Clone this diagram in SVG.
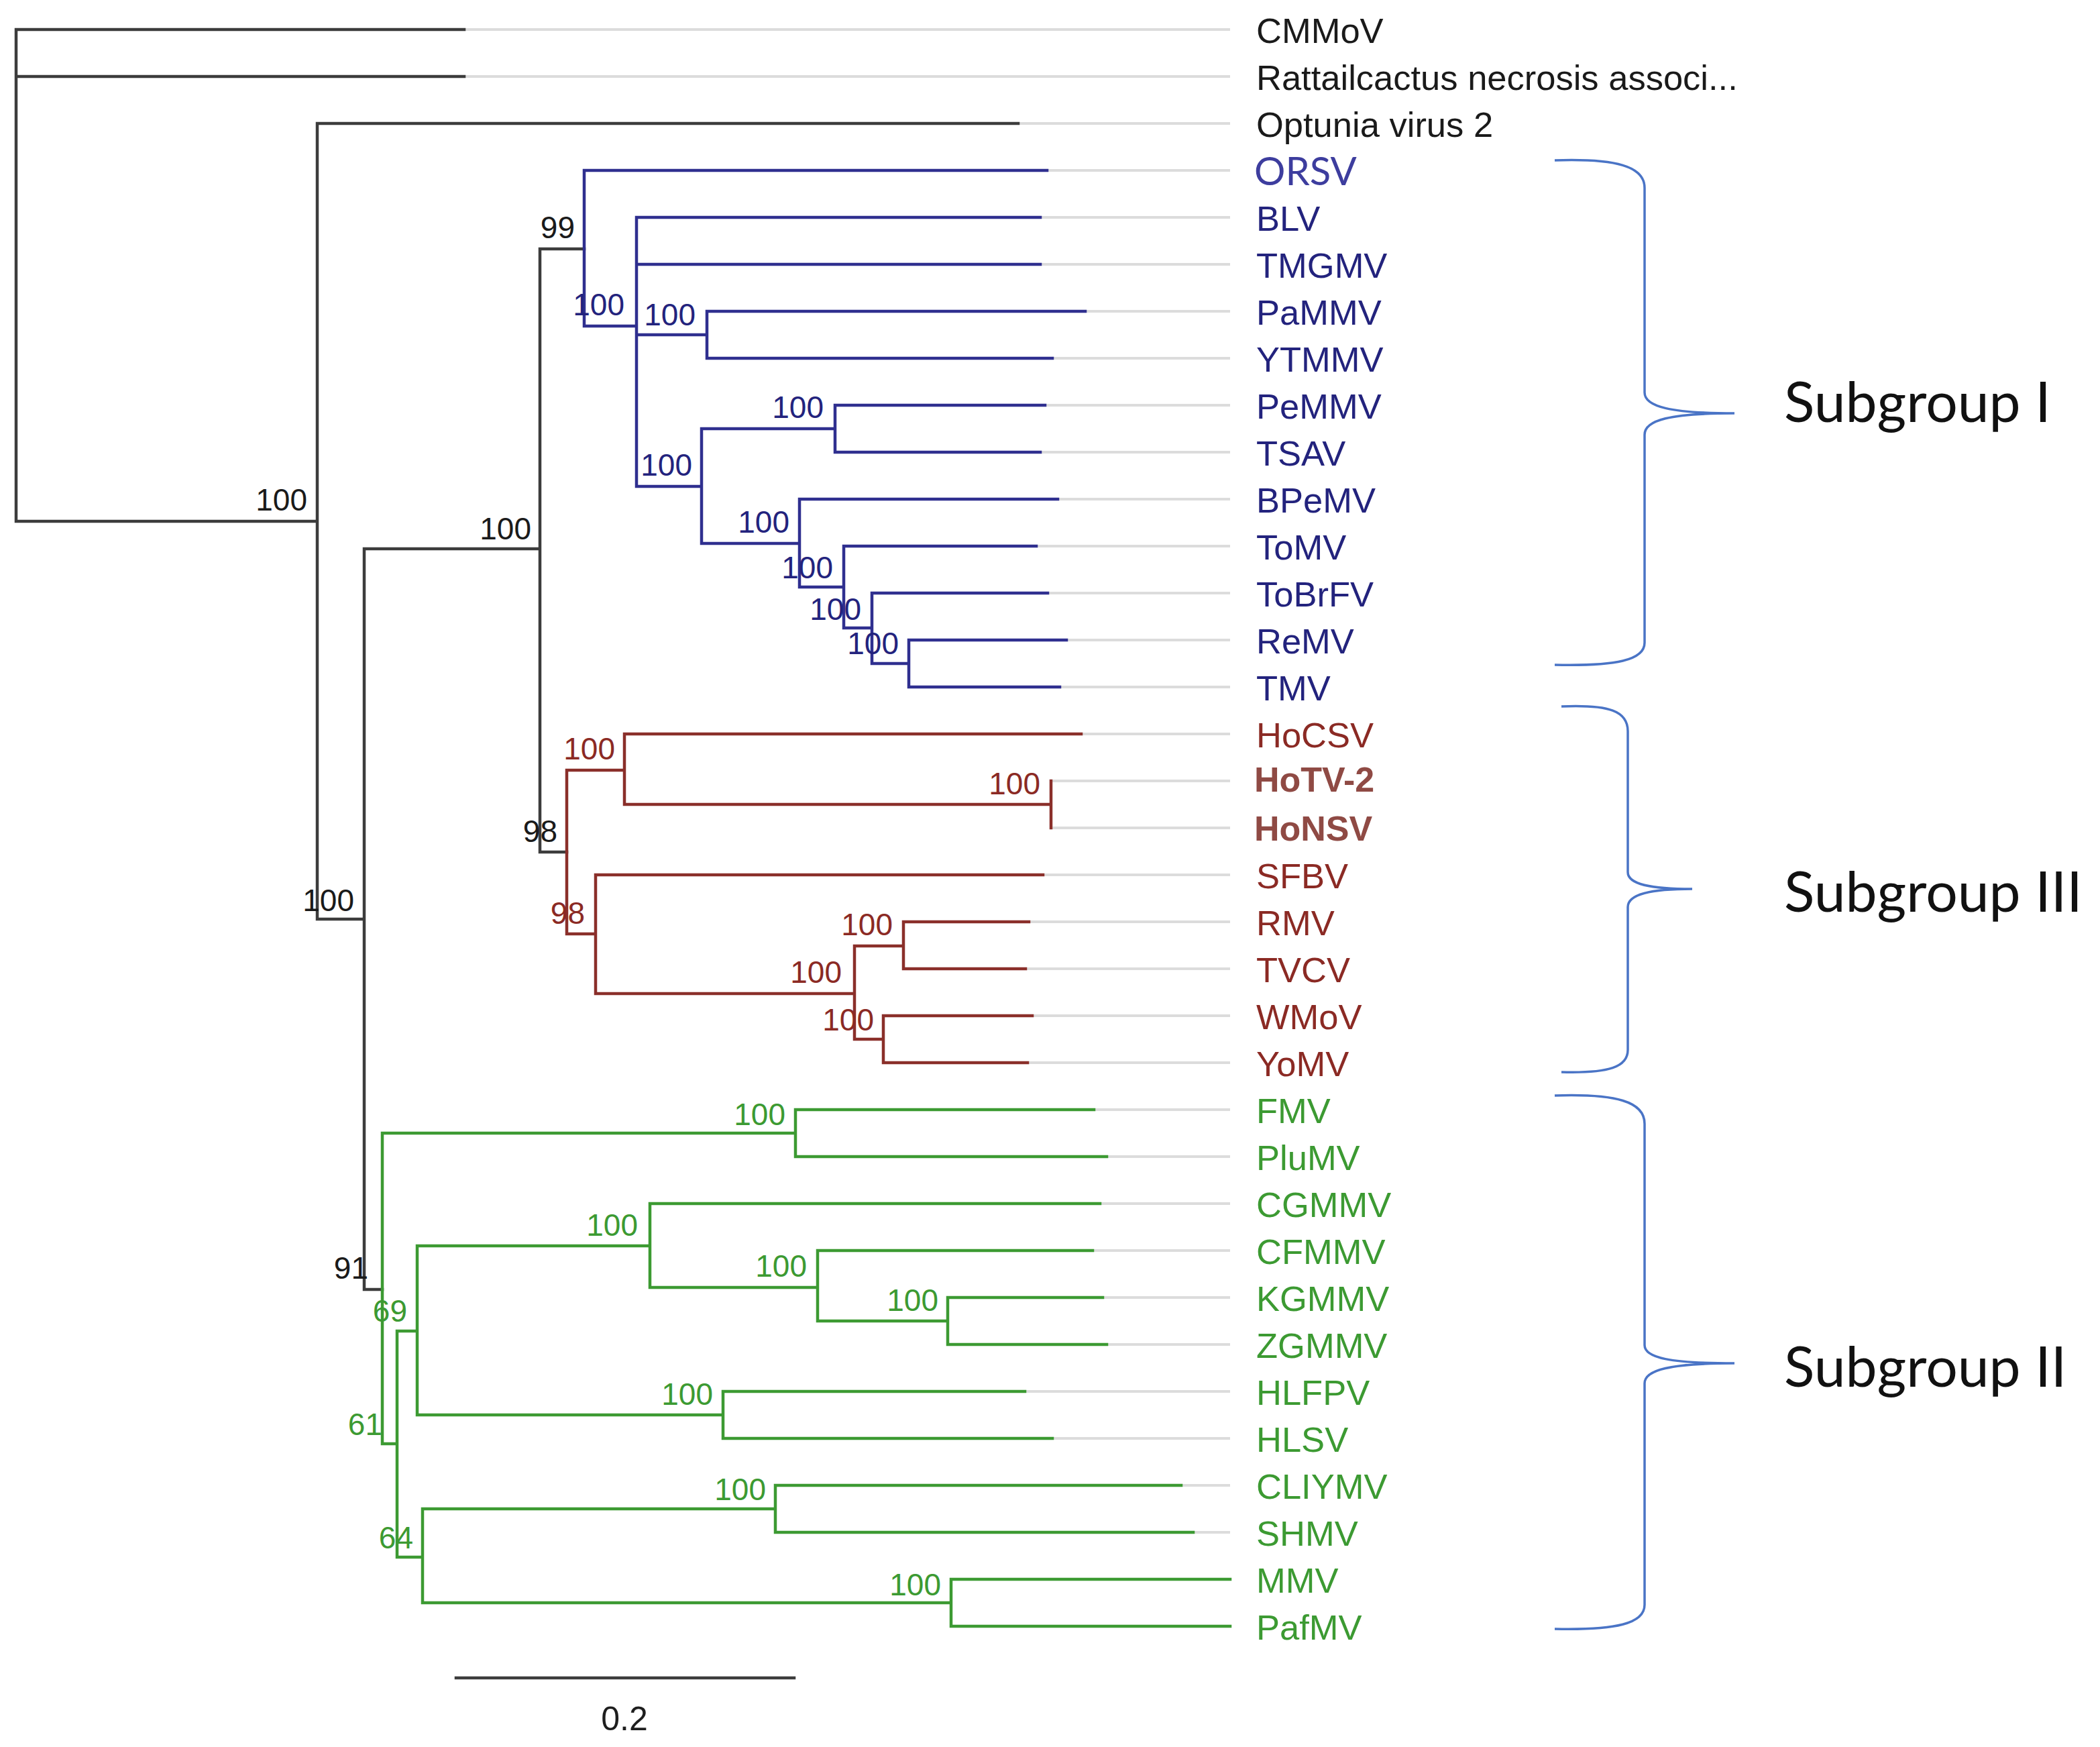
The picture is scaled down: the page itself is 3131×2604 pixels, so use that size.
<svg xmlns="http://www.w3.org/2000/svg" width="3131" height="2604" viewBox="0 0 3131 2604">
<style>
.br{fill:none;stroke-width:4.5;stroke-linecap:square}
.k{stroke:#3c3c3c}.b{stroke:#2f2f8f}.r{stroke:#8a2f2a}.g{stroke:#3c9a32}
.x{fill:none;stroke:#dcdcdc;stroke-width:4}
.brace{fill:none;stroke:#4a74c6;stroke-width:3.5}
.leaf{font-family:"Liberation Sans",Arial,sans-serif;font-size:52.5px}
.bs{font-family:"Liberation Sans",Arial,sans-serif;font-size:46px;text-anchor:end}
.tk{fill:#1a1a1a}.tb{fill:#23237d}.tr{fill:#8b2a24}.tg{fill:#3c9a32}
.sg{font-family:Lato,"Open Sans",sans-serif;font-size:84px;fill:#111}
</style>
<rect width="3131" height="2604" fill="#fff"/>
<g id="connectors">
<path class="x" d="M692 44H1834M692 114H1834M1518 184H1834M1561 254H1834M1551 324H1834M1551 394H1834M1618 464H1834M1569 534H1834M1558 604H1834M1551 674H1834M1577 744H1834M1545 814H1834M1562 884H1834M1590 954H1834M1580 1024H1834M1612 1094H1834M1567 1164H1834M1567 1234H1834M1555 1304H1834M1534 1374H1834M1529 1444H1834M1539 1514H1834M1532 1584H1834M1631 1654H1834M1650 1724H1834M1640 1794H1834M1629 1864H1834M1644 1934H1834M1650 2004H1834M1528 2074H1834M1569 2144H1834M1761 2214H1834M1779 2284H1834"/>
<path class="br k" d="M24 44V777M24 44H692M24 114H692M24 777H473M473 184V1370M473 184H1518M473 1370H543M543 818V1922M543 818H805M805 371V1270M805 371H871M805 1270H845M543 1922H570"/>
<path class="br b" d="M871 254V486M871 254H1561M871 486H949M949 324V725M949 324H1551M949 394H1551M949 499H1054M1054 464V534M1054 464H1618M1054 534H1569M949 725H1046M1046 639V810M1046 639H1245M1245 604V674M1245 604H1558M1245 674H1551M1046 810H1192M1192 744V875M1192 744H1577M1192 875H1258M1258 814V936M1258 814H1545M1258 936H1300M1300 884V989M1300 884H1562M1300 989H1355M1355 954V1024M1355 954H1590M1355 1024H1580"/>
<path class="br r" d="M845 1148V1392M845 1148H931M931 1094V1199M931 1094H1612M931 1199H1567M1567 1164V1234M845 1392H888M888 1304V1481M888 1304H1555M888 1481H1274M1274 1410V1549M1274 1410H1347M1347 1374V1444M1347 1374H1534M1347 1444H1529M1274 1549H1317M1317 1514V1584M1317 1514H1539M1317 1584H1532"/>
<path class="br g" d="M570 1689V2152M570 1689H1186M1186 1654V1724M1186 1654H1631M1186 1724H1650M570 2152H592M592 1984V2321M592 1984H622M622 1857V2109M622 1857H969M969 1794V1919M969 1794H1640M969 1919H1219M1219 1864V1969M1219 1864H1629M1219 1969H1413M1413 1934V2004M1413 1934H1644M1413 2004H1650M622 2109H1078M1078 2074V2144M1078 2074H1528M1078 2144H1569M592 2321H630M630 2249V2389M630 2249H1156M1156 2214V2284M1156 2214H1761M1156 2284H1779M630 2389H1418M1418 2354V2424M1418 2354H1834M1418 2424H1834"/>
</g>
<g id="support-values">
<text class="bs tk" x="458" y="761">100</text>
<text class="bs tk" x="528" y="1358">100</text>
<text class="bs tk" x="792" y="804">100</text>
<text class="bs tk" x="857" y="355">99</text>
<text class="bs tk" x="831" y="1255">98</text>
<text class="bs tk" x="549" y="1906">91</text>
<text class="bs tb" x="931" y="470">100</text>
<text class="bs tb" x="1037" y="485">100</text>
<text class="bs tb" x="1032" y="709">100</text>
<text class="bs tb" x="1228" y="623">100</text>
<text class="bs tb" x="1177" y="794">100</text>
<text class="bs tb" x="1242" y="862">100</text>
<text class="bs tb" x="1284" y="924">100</text>
<text class="bs tb" x="1340" y="975">100</text>
<text class="bs tr" x="917" y="1132">100</text>
<text class="bs tr" x="1551" y="1184">100</text>
<text class="bs tr" x="872" y="1377">98</text>
<text class="bs tr" x="1255" y="1465">100</text>
<text class="bs tr" x="1331" y="1394">100</text>
<text class="bs tr" x="1303" y="1536">100</text>
<text class="bs tg" x="1171" y="1677">100</text>
<text class="bs tg" x="951" y="1842">100</text>
<text class="bs tg" x="1203" y="1903">100</text>
<text class="bs tg" x="1399" y="1954">100</text>
<text class="bs tg" x="1063" y="2094">100</text>
<text class="bs tg" x="1142" y="2236">100</text>
<text class="bs tg" x="1403" y="2378">100</text>
<text class="bs tg" x="607" y="1970">69</text>
<text class="bs tg" x="570" y="2139">61</text>
<text class="bs tg" x="616" y="2308">64</text>
</g>
<g id="leaf-CMMoV"><text class="leaf tk" x="1873" y="64">CMMoV</text></g>
<g id="leaf-Rattailcactus"><text class="leaf tk" x="1873" y="134">Rattailcactus necrosis associ...</text></g>
<g id="leaf-Optunia"><text class="leaf tk" x="1873" y="204">Optunia virus 2</text></g>
<g id="leaf-ORSV"><text x="1870" y="276" style="font-family:Lato,'Open Sans',sans-serif;font-size:58px;fill:#3d3d9e">ORSV</text></g>
<g id="leaf-BLV"><text class="leaf tb" x="1873" y="344">BLV</text></g>
<g id="leaf-TMGMV"><text class="leaf tb" x="1873" y="414">TMGMV</text></g>
<g id="leaf-PaMMV"><text class="leaf tb" x="1873" y="484">PaMMV</text></g>
<g id="leaf-YTMMV"><text class="leaf tb" x="1873" y="554">YTMMV</text></g>
<g id="leaf-PeMMV"><text class="leaf tb" x="1873" y="624">PeMMV</text></g>
<g id="leaf-TSAV"><text class="leaf tb" x="1873" y="694">TSAV</text></g>
<g id="leaf-BPeMV"><text class="leaf tb" x="1873" y="764">BPeMV</text></g>
<g id="leaf-ToMV"><text class="leaf tb" x="1873" y="834">ToMV</text></g>
<g id="leaf-ToBrFV"><text class="leaf tb" x="1873" y="904">ToBrFV</text></g>
<g id="leaf-ReMV"><text class="leaf tb" x="1873" y="974">ReMV</text></g>
<g id="leaf-TMV"><text class="leaf tb" x="1873" y="1044">TMV</text></g>
<g id="leaf-HoCSV"><text class="leaf tr" x="1873" y="1114">HoCSV</text></g>
<g id="leaf-HoTV-2"><text class="leaf" x="1870" y="1180" style="font-weight:bold;font-size:52px;fill:#8f4a44">HoTV-2</text></g>
<g id="leaf-HoNSV"><text class="leaf" x="1870" y="1253" style="font-weight:bold;font-size:52px;fill:#8f4a44">HoNSV</text></g>
<g id="leaf-SFBV"><text class="leaf tr" x="1873" y="1324">SFBV</text></g>
<g id="leaf-RMV"><text class="leaf tr" x="1873" y="1394">RMV</text></g>
<g id="leaf-TVCV"><text class="leaf tr" x="1873" y="1464">TVCV</text></g>
<g id="leaf-WMoV"><text class="leaf tr" x="1873" y="1534">WMoV</text></g>
<g id="leaf-YoMV"><text class="leaf tr" x="1873" y="1604">YoMV</text></g>
<g id="leaf-FMV"><text class="leaf tg" x="1873" y="1674">FMV</text></g>
<g id="leaf-PluMV"><text class="leaf tg" x="1873" y="1744">PluMV</text></g>
<g id="leaf-CGMMV"><text class="leaf tg" x="1873" y="1814">CGMMV</text></g>
<g id="leaf-CFMMV"><text class="leaf tg" x="1873" y="1884">CFMMV</text></g>
<g id="leaf-KGMMV"><text class="leaf tg" x="1873" y="1954">KGMMV</text></g>
<g id="leaf-ZGMMV"><text class="leaf tg" x="1873" y="2024">ZGMMV</text></g>
<g id="leaf-HLFPV"><text class="leaf tg" x="1873" y="2094">HLFPV</text></g>
<g id="leaf-HLSV"><text class="leaf tg" x="1873" y="2164">HLSV</text></g>
<g id="leaf-CLIYMV"><text class="leaf tg" x="1873" y="2234">CLIYMV</text></g>
<g id="leaf-SHMV"><text class="leaf tg" x="1873" y="2304">SHMV</text></g>
<g id="leaf-MMV"><text class="leaf tg" x="1873" y="2374">MMV</text></g>
<g id="leaf-PafMV"><text class="leaf tg" x="1873" y="2444">PafMV</text></g>
<g id="subgroup-I">
<path class="brace" d="M2318 239C2410 236 2452 248 2452 280V585C2452 606 2490 616 2586 616M2586 616C2490 616 2452 626 2452 648V958C2452 984 2410 993 2318 991"/>
<text class="sg" x="2660" y="629">Subgroup I</text>
</g>
<g id="subgroup-III">
<path class="brace" d="M2328 1053C2400 1050 2427 1060 2427 1090V1300C2427 1318 2460 1325 2523 1325M2523 1325C2460 1325 2427 1333 2427 1352V1565C2427 1590 2400 1600 2328 1598"/>
<text class="sg" x="2660" y="1359">Subgroup III</text>
</g>
<g id="subgroup-II">
<path class="brace" d="M2318 1633C2410 1630 2452 1642 2452 1675V2005C2452 2024 2490 2032 2586 2032M2586 2032C2490 2032 2452 2042 2452 2062V2392C2452 2420 2410 2430 2318 2428"/>
<text class="sg" x="2660" y="2067">Subgroup II</text>
</g>
<g id="scale-bar">
<path class="br k" d="M680 2501H1184"/>
<text x="931" y="2579" style="font-family:'Liberation Sans',Arial,sans-serif;font-size:50px;fill:#1e1e1e;text-anchor:middle">0.2</text>
</g>
</svg>
